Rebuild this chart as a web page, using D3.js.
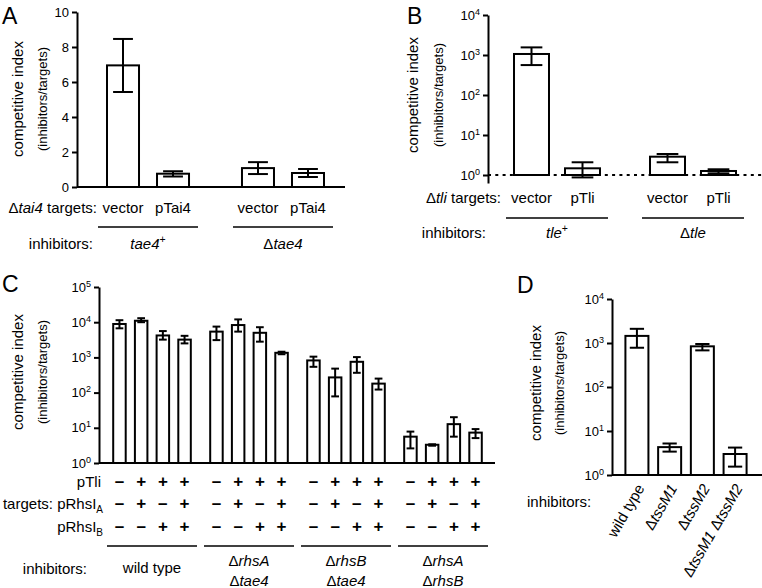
<!DOCTYPE html>
<html><head><meta charset="utf-8">
<script src="https://cdn.jsdelivr.net/npm/d3@7"></script>
<style>
body{margin:0;background:#fff}
svg{display:block}
text{font-family:"Liberation Sans",Arial,Helvetica,sans-serif;fill:#000}
</style>
</head><body>
<svg id="fig" width="762" height="588"></svg>
<script>
// ---------- Panel A ----------
const aGroups = ["tae4+", "Δtae4"];
const aTargets = ["vector", "pTai4"];
const aMean = [6.95, 0.76, 1.08, 0.80];
const aLow  = [5.43, 0.60, 0.74, 0.57];
const aHigh = [8.46, 0.90, 1.42, 1.03];
const aTicks = [0, 2, 4, 6, 8, 10];
// ---------- Panel B ----------
const bGroups = ["tle+", "Δtle"];
const bTargets = ["vector", "pTli"];
const bMean = [1060, 1.47, 2.87, 1.26];
const bLow  = [560, 0.87, 2.08, 1.10];
const bHigh = [1550, 2.08, 3.35, 1.39];
const bTicks = [1, 10, 100, 1000, 10000];
// ---------- Panel C ----------
const cGroups = ["wild type", "ΔrhsA Δtae4", "ΔrhsB Δtae4", "ΔrhsA ΔrhsB"];
const cPTli  = ["–", "+", "+", "+"];
const cRhsIA = ["–", "+", "–", "+"];
const cRhsIB = ["–", "–", "+", "+"];
const cMean = [8900, 11000, 4200, 3200,  5400, 8300, 5000, 1350,  820, 270, 750, 180,  5.6, 3.3, 12.7, 7.3];
const cLow  = [6700, 10000, 3200, 2500,  3100, 5400, 2800, 1230,  540, 78, 365, 122,   2.6, 3.1, 5.6, 5.1];
const cHigh = [11400, 13000, 5600, 4100, 7500, 12000, 7200, 1450, 1050, 480, 1020, 250, 7.8, 3.4, 20, 9.2];
const cTicks = [1, 10, 100, 1000, 10000, 100000];
// ---------- Panel D ----------
const dStrains = ["wild type", "ΔtssM1", "ΔtssM2", "ΔtssM1 ΔtssM2"];
const dMean = [1450, 4.3, 840, 3.0];
const dLow  = [780, 3.4, 680, 1.55];
const dHigh = [2100, 5.2, 950, 4.2];
const dTicks = [1, 10, 100, 1000, 10000];

const svg = d3.select("#fig");
svg.append("rect").attr("width", 762).attr("height", 588).attr("fill", "#fff");

// rich text: Δ upright + italic gene; trailing + as superscript
function rich(sel, str) {
  const words = str.split(" ");
  words.forEach((w, i) => {
    const pre = i > 0 ? " " : "";
    if (w.startsWith("Δ")) {
      sel.append("tspan").text(pre + "Δ");
      sel.append("tspan").attr("font-style", "italic").text(w.slice(1));
    } else if (w.endsWith("+") && w.length > 1) {
      sel.append("tspan").attr("font-style", "italic").text(pre + w.slice(0, -1));
      sel.append("tspan").attr("dy", -6).attr("font-size", "0.7em").text("+");
    } else if (w === "tai4" || w === "tli") {
      sel.append("tspan").attr("font-style", "italic").text(pre + w);
    } else {
      sel.append("tspan").text(pre + w);
    }
  });
  return sel;
}

function styleAxis(a) {
  a.select(".domain").attr("stroke-width", 2);
  a.selectAll(".tick line").attr("stroke-width", 2);
  a.attr("font-size", 13).attr("font-family", '"Liberation Sans",Arial,sans-serif');
}

function linAxis(x, y, ticks) {
  const a = svg.append("g").attr("transform", `translate(${x},0)`)
    .call(d3.axisLeft(y).tickValues(ticks).tickSize(5).tickSizeOuter(0).tickFormat(d3.format("d")));
  styleAxis(a);
  return a;
}
function logAxis(x, y, ticks) {
  const a = svg.append("g").attr("transform", `translate(${x},0)`)
    .call(d3.axisLeft(y).tickValues(ticks).tickSize(5).tickSizeOuter(0).tickFormat(() => ""));
  styleAxis(a);
  a.selectAll(".tick text").each(function(d) {
    const t = d3.select(this);
    t.text(null);
    t.append("tspan").text("10");
    t.append("tspan").attr("dy", -5).attr("font-size", 9).text(Math.round(Math.log10(d)));
  });
  return a;
}

function bars(data, xf, bw, y, base) {
  const g = svg.append("g");
  g.selectAll("rect").data(data).join("rect")
    .attr("x", d => xf(d)).attr("y", d => y(d.m))
    .attr("width", bw).attr("height", d => base - y(d.m))
    .attr("fill", "#fff").attr("stroke", "#000").attr("stroke-width", 2);
  return g;
}
function errs(data, xf, bw, y) {
  const g = svg.append("g").attr("stroke", "#000").attr("stroke-width", 2);
  const cw = bw * 0.62;
  data.forEach(d => {
    const cx = xf(d) + bw / 2;
    g.append("line").attr("x1", cx).attr("x2", cx).attr("y1", y(d.lo)).attr("y2", y(d.hi));
    g.append("line").attr("x1", cx - cw / 2).attr("x2", cx + cw / 2).attr("y1", y(d.hi)).attr("y2", y(d.hi));
    g.append("line").attr("x1", cx - cw / 2).attr("x2", cx + cw / 2).attr("y1", y(d.lo)).attr("y2", y(d.lo));
  });
}
function hline(x1, x2, y, w) {
  svg.append("line").attr("x1", x1).attr("x2", x2).attr("y1", y).attr("y2", y)
    .attr("stroke", "#000").attr("stroke-width", w || 2);
}
function txt(x, y, s, opts) {
  opts = opts || {};
  const t = svg.append("text").attr("x", x).attr("y", y)
    .attr("font-size", opts.size || 15).attr("text-anchor", opts.anchor || "start");
  if (opts.weight) t.attr("font-weight", opts.weight);
  if (opts.rich) rich(t, s); else t.text(s);
  return t;
}
function yTitle(x1, x2, cy) {
  svg.append("text").attr("transform", `translate(${x1},${cy}) rotate(-90)`)
    .attr("text-anchor", "middle").attr("font-size", 15).text("competitive index");
  svg.append("text").attr("transform", `translate(${x2},${cy}) rotate(-90)`)
    .attr("text-anchor", "middle").attr("font-size", 13).text("(inhibitors/targets)");
}

// ================= Panel A =================
{
  const y = d3.scaleLinear().domain([0, 10]).range([187, 12]);
  const xo = d3.scaleBand().domain(aGroups).range([98, 333]).paddingInner(0.259).paddingOuter(0);
  const xi = d3.scaleBand().domain(aTargets).range([0, xo.bandwidth()]).paddingInner(0.36).paddingOuter(0.18);
  const data = aMean.map((m, i) => ({ g: aGroups[i >> 1], t: aTargets[i % 2], m, lo: aLow[i], hi: aHigh[i] }));
  const xf = d => xo(d.g) + xi(d.t);
  const bw = xi.bandwidth();
  bars(data, xf, bw, y, y(0));
  hline(77, 345, y(0));
  linAxis(77, y, aTicks);
  errs(data, xf, bw, y);
  yTitle(23, 47, 99);
  txt(2, 24, "A", { size: 23 });
  txt(97, 213, "Δtai4 targets:", { anchor: "end", rich: true });
  data.forEach(d => txt(xf(d) + bw / 2, 213, d.t, { anchor: "middle" }));
  aGroups.forEach(g => {
    hline(xo(g), xo(g) + xo.bandwidth(), 227, 1.3);
    txt(xo(g) + xo.bandwidth() / 2, 249, g, { anchor: "middle", rich: true });
  });
  txt(93, 249, "inhibitors:", { anchor: "end" });
}

// ================= Panel B =================
{
  const y = d3.scaleLog().domain([Math.pow(10, -0.2), 1e4]).range([183, 15]);
  const xo = d3.scaleBand().domain(bGroups).range([506, 744]).paddingInner(0.25).paddingOuter(0);
  const xi = d3.scaleBand().domain(bTargets).range([0, xo.bandwidth()]).paddingInner(0.314).paddingOuter(0.157);
  const data = bMean.map((m, i) => ({ g: bGroups[i >> 1], t: bTargets[i % 2], m, lo: bLow[i], hi: bHigh[i] }));
  const xf = d => xo(d.g) + xi(d.t);
  const bw = xi.bandwidth();
  svg.append("line").attr("x1", 488).attr("x2", 762).attr("y1", y(1)).attr("y2", y(1))
    .attr("stroke", "#000").attr("stroke-width", 2).attr("stroke-dasharray", "3,4.3");
  bars(data, xf, bw, y, y(1));
  logAxis(488, y, bTicks);
  errs(data, xf, bw, y);
  yTitle(418, 443, 95);
  txt(407, 24, "B", { size: 23 });
  txt(501, 203, "Δtli targets:", { anchor: "end", rich: true });
  data.forEach(d => txt(xf(d) + bw / 2, 203, d.t, { anchor: "middle" }));
  bGroups.forEach(g => {
    hline(xo(g), xo(g) + xo.bandwidth(), 218, 1.3);
    txt(xo(g) + xo.bandwidth() / 2, 238, g, { anchor: "middle", rich: true });
  });
  txt(486, 238, "inhibitors:", { anchor: "end" });
}

// ================= Panel C =================
{
  const y = d3.scaleLog().domain([1, 1e5]).range([463, 287]);
  const xo = d3.scaleBand().domain(cGroups).range([107, 488]).paddingInner(0.072).paddingOuter(0);
  const xi = d3.scaleBand().domain([0, 1, 2, 3]).range([0, xo.bandwidth()]).paddingInner(0.424).paddingOuter(0.286);
  const data = cMean.map((m, i) => ({ g: cGroups[i >> 2], k: i % 4, m, lo: cLow[i], hi: cHigh[i] }));
  const xf = d => xo(d.g) + xi(d.k);
  const bw = xi.bandwidth();
  bars(data, xf, bw, y, y(1));
  hline(99, 495, y(1));
  logAxis(99, y, cTicks);
  errs(data, xf, bw, y);
  yTitle(23, 47, 372);
  txt(2, 292, "C", { size: 23 });
  const rows = [[cPTli, 487], [cRhsIA, 509], [cRhsIB, 532]];
  data.forEach(d => rows.forEach(r => txt(xf(d) + bw / 2, r[1], r[0][d.k], { anchor: "middle", size: 17, weight: "bold" })));
  txt(101, 487, "pTli", { anchor: "end" });
  const tA = txt(103, 509, "targets: pRhsI", { anchor: "end" });
  tA.append("tspan").attr("dy", 4).attr("font-size", 10).text("A");
  const tB = txt(103, 532, "pRhsI", { anchor: "end" });
  tB.append("tspan").attr("dy", 4).attr("font-size", 10).text("B");
  cGroups.forEach(g => {
    hline(xo(g), xo(g) + xo.bandwidth(), 546, 1.3);
    const cx = xo(g) + xo.bandwidth() / 2;
    if (g.startsWith("Δ")) {
      const parts = g.split(" ");
      txt(cx, 566, parts[0], { anchor: "middle", rich: true });
      txt(cx, 586, parts[1], { anchor: "middle", rich: true });
    } else {
      txt(cx, 573, g, { anchor: "middle" });
    }
  });
  txt(87, 574, "inhibitors:", { anchor: "end" });
}

// ================= Panel D =================
{
  const y = d3.scaleLog().domain([1, 1e4]).range([475, 299]);
  const x = d3.scaleBand().domain(dStrains).range([612, 760]).paddingInner(0.297).paddingOuter(0.41);
  const data = dMean.map((m, i) => ({ s: dStrains[i], m, lo: dLow[i], hi: dHigh[i] }));
  const xf = d => x(d.s);
  const bw = x.bandwidth();
  bars(data, xf, bw, y, y(1));
  hline(612, 762, y(1));
  logAxis(612, y, dTicks);
  errs(data, xf, bw, y);
  yTitle(541, 564, 383);
  txt(517, 293, "D", { size: 23 });
  data.forEach(d => {
    const t = svg.append("text")
      .attr("transform", `translate(${xf(d) + bw / 2 + 8},488) rotate(-60)`)
      .attr("text-anchor", "end").attr("font-size", 15);
    if (d.s.startsWith("Δ")) rich(t, d.s); else t.text(d.s);
  });
  txt(527, 507, "inhibitors:");
}
</script>
</body></html>
